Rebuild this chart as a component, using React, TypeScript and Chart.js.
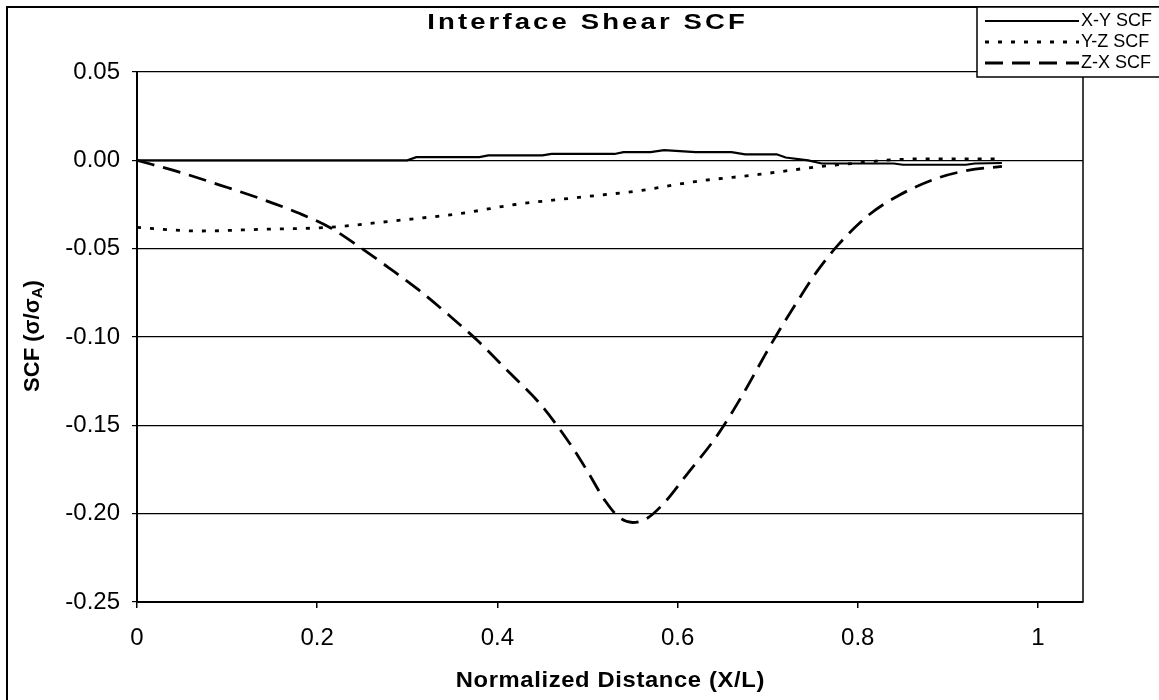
import { useEffect, useRef } from "react";
import { Chart, registerables } from "chart.js";

Chart.register(...registerables);

// X-Y interface shear SCF (solid)
const xyDistance = [0, 0.3, 0.31, 0.38, 0.39, 0.45, 0.46, 0.53, 0.54, 0.57, 0.585, 0.62, 0.66, 0.675, 0.71, 0.72, 0.745, 0.76, 0.84, 0.85, 0.92, 0.93, 0.96];
const xyScf = [0, 0, 0.0018, 0.0018, 0.0028, 0.0028, 0.0036, 0.0036, 0.0046, 0.0046, 0.0058, 0.0046, 0.0046, 0.0034, 0.0034, 0.0016, 0, -0.0018, -0.0018, -0.0025, -0.0025, -0.0018, -0.0015];

// Y-Z interface shear SCF (dotted)
const yzDistance = [0, 0.07, 0.14, 0.21, 0.29, 0.36, 0.42, 0.49, 0.56, 0.62, 0.69, 0.76, 0.8, 0.83, 0.87, 0.92, 0.96];
const yzScf = [-0.038, -0.04, -0.039, -0.038, -0.034, -0.03, -0.025, -0.021, -0.017, -0.012, -0.008, -0.0034, -0.0015, 0, 0.0008, 0.0008, 0.0008];

// Z-X interface shear SCF (dashed)
const zxDistance = [0, 0.048, 0.092, 0.136, 0.18, 0.214, 0.247, 0.28, 0.313, 0.347, 0.38, 0.413, 0.446, 0.48, 0.5, 0.52, 0.535, 0.55, 0.565, 0.585, 0.61, 0.645, 0.673, 0.695, 0.712, 0.734, 0.756, 0.778, 0.812, 0.845, 0.889, 0.922, 0.96];
const zxScf = [0, -0.0068, -0.014, -0.0215, -0.03, -0.038, -0.049, -0.061, -0.0735, -0.088, -0.103, -0.12, -0.137, -0.16, -0.176, -0.193, -0.202, -0.205, -0.203, -0.194, -0.178, -0.155, -0.132, -0.112, -0.097, -0.079, -0.062, -0.048, -0.031, -0.02, -0.01, -0.0057, -0.0034];

const xTicks = [0, 0.2, 0.4, 0.6, 0.8, 1];
const seriesNames = ["X-Y SCF", "Y-Z SCF", "Z-X SCF"];
const seriesDashes: number[][] = [[], [4, 9], [18, 9]];

const FONT = "'Liberation Sans', Arial, sans-serif";

const toPoints = (xs: number[], ys: number[]) => xs.map((x, i) => ({ x, y: ys[i] }));

function spacedText(ctx: CanvasRenderingContext2D, text: string, x: number, y: number, spacing: number) {
  const c = ctx as any;
  if ("letterSpacing" in c) {
    c.letterSpacing = spacing + "px";
    const w = ctx.measureText(text).width - spacing;
    ctx.textAlign = "left";
    ctx.fillText(text, x - w / 2, y);
    c.letterSpacing = "0px";
  } else {
    ctx.textAlign = "center";
    ctx.fillText(text, x, y);
  }
}

const decorations = {
  id: "decorations",
  afterDraw(chart: Chart) {
    const ctx = chart.ctx;
    const { top, right, bottom } = chart.chartArea;
    ctx.save();
    ctx.strokeStyle = "#000";
    ctx.fillStyle = "#000";

    // plot frame, right side
    ctx.lineWidth = 1.5;
    ctx.beginPath();
    ctx.moveTo(right, top);
    ctx.lineTo(right, bottom);
    ctx.stroke();

    // outer chart frame
    ctx.lineWidth = 2;
    ctx.strokeRect(7, 7, 1300, 800);

    // title, slightly widened
    ctx.save();
    ctx.font = `bold 22px ${FONT}`;
    ctx.textBaseline = "middle";
    ctx.translate(586, 23);
    ctx.scale(1.25, 1);
    spacedText(ctx, "Interface Shear SCF", 0, 0, 2.5);
    ctx.restore();

    // x-axis title
    ctx.save();
    ctx.font = `bold 22px ${FONT}`;
    ctx.textBaseline = "middle";
    ctx.translate(610, 681);
    ctx.scale(1.08, 1);
    spacedText(ctx, "Normalized Distance (X/L)", 0, 0, 0.6);
    ctx.restore();

    // y-axis title with subscript
    ctx.save();
    ctx.translate(33, 336);
    ctx.rotate(-Math.PI / 2);
    const mainFont = `bold 22px ${FONT}`;
    const subFont = `bold 15px ${FONT}`;
    const parts: [string, string, number][] = [
      ["SCF (\u03c3/\u03c3", mainFont, 0],
      ["A", subFont, 5],
      [")", mainFont, 0],
    ];
    let total = 0;
    for (const [t, f] of parts) {
      ctx.font = f;
      total += ctx.measureText(t).width;
    }
    let cx = -total / 2;
    ctx.textAlign = "left";
    ctx.textBaseline = "middle";
    for (const [t, f, dy] of parts) {
      ctx.font = f;
      ctx.fillText(t, cx, dy);
      cx += ctx.measureText(t).width;
    }
    ctx.restore();

    // legend box
    const lx = 977;
    const ly = 7;
    ctx.fillStyle = "#fff";
    ctx.fillRect(lx, ly, 300, 70);
    ctx.lineWidth = 1.5;
    ctx.strokeRect(lx, ly, 300, 70);
    ctx.fillStyle = "#000";
    ctx.font = `18px ${FONT}`;
    ctx.textAlign = "left";
    ctx.textBaseline = "middle";
    seriesNames.forEach((name, i) => {
      const y = 21 + i * 21;
      ctx.setLineDash(seriesDashes[i]);
      ctx.lineWidth = i === 0 ? 2.2 : 2.8;
      ctx.beginPath();
      ctx.moveTo(985, y);
      ctx.lineTo(1079, y);
      ctx.stroke();
      ctx.setLineDash([]);
      ctx.fillText(name, 1081, y);
    });
    ctx.restore();
  },
};

export default function App() {
  const canvasRef = useRef<HTMLCanvasElement | null>(null);

  useEffect(() => {
    const canvas = canvasRef.current;
    if (!canvas) return;
    const chart = new Chart(canvas, {
      type: "scatter",
      data: {
        datasets: [
          {
            label: seriesNames[0],
            data: toPoints(xyDistance, xyScf),
            showLine: true,
            borderColor: "#000",
            borderWidth: 2.2,
            pointRadius: 0,
            tension: 0,
          },
          {
            label: seriesNames[1],
            data: toPoints(yzDistance, yzScf),
            showLine: true,
            borderColor: "#000",
            borderWidth: 2.8,
            borderDash: seriesDashes[1],
            pointRadius: 0,
            cubicInterpolationMode: "monotone",
          },
          {
            label: seriesNames[2],
            data: toPoints(zxDistance, zxScf),
            showLine: true,
            borderColor: "#000",
            borderWidth: 2.8,
            borderDash: seriesDashes[2],
            pointRadius: 0,
            cubicInterpolationMode: "monotone",
          },
        ],
      },
      options: {
        responsive: false,
        animation: false,
        layout: { padding: { left: 0, top: 72, right: 76, bottom: 0 } },
        plugins: {
          legend: { display: false },
          title: { display: false },
          tooltip: { enabled: false },
        },
        scales: {
          x: {
            type: "linear",
            min: 0,
            max: 1.05,
            afterFit: (scale: any) => {
              scale.height = 98;
            },
            afterBuildTicks: (scale: any) => {
              scale.ticks = xTicks.map((v) => ({ value: v }));
            },
            ticks: {
              callback: (v: any) => String(Math.round(Number(v) * 10) / 10),
              font: { family: FONT, size: 24 },
              color: "#000",
              padding: 16,
              maxRotation: 0,
              autoSkip: false,
            },
            grid: { drawOnChartArea: false, drawTicks: true, tickLength: 6, color: "#000", lineWidth: 1.5 },
            border: { color: "#000", width: 2 },
          },
          y: {
            type: "linear",
            min: -0.25,
            max: 0.05,
            afterFit: (scale: any) => {
              scale.width = 137;
            },
            ticks: {
              stepSize: 0.05,
              callback: (v: any) => (Math.round(Number(v) * 100) / 100).toFixed(2),
              font: { family: FONT, size: 24 },
              color: "#000",
              padding: 12,
            },
            grid: { color: "#000", lineWidth: 1.2, tickLength: 5 },
            border: { color: "#000", width: 2 },
          },
        },
      },
      plugins: [decorations],
    });
    return () => chart.destroy();
  }, []);

  return (
    <div style={{ position: "fixed", inset: 0, overflow: "hidden", background: "#fff" }}>
      <canvas ref={canvasRef} width={1159} height={700} style={{ display: "block" }} />
    </div>
  );
}
